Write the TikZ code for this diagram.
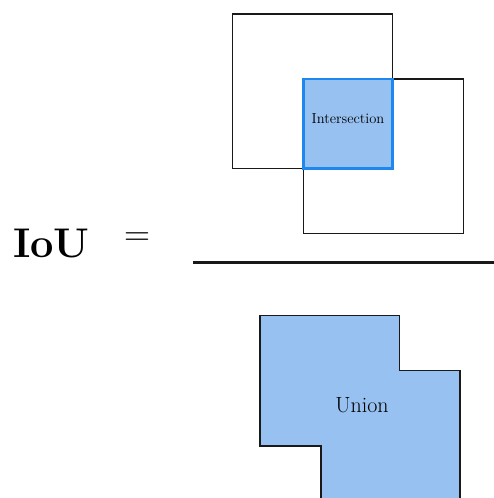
\documentclass[tikz,border=0pt]{standalone}
\definecolor{unionfill}{RGB}{151,193,240}
\definecolor{interblue}{RGB}{30,136,240}
\begin{document}
\begin{tikzpicture}[x=1pt,y=-1pt,
  boxline/.style={draw=black!90,line width=1.2pt},
  lbl/.style={inner sep=0pt,text=black}]
\clip (0,0) rectangle (494,498);
\useasboundingbox (0,0) rectangle (494,498);
% numerator
\draw[boxline] (232.7,14) rectangle (392.7,168.7);
\draw[boxline] (303.3,79) rectangle (463.3,233.3);
\draw[fill=unionfill,draw=interblue,line width=2.6pt] (303.3,79) rectangle (392.7,168.7);
\node[lbl,font=\fontsize{14.5}{14.5}\selectfont] (inter) at (348,118.5) {Intersection};
% fraction bar
\coordinate (barL) at (193,262.5);
\coordinate (barR) at (494,262.5);
\draw[line width=2.6pt,black!90] (barL) -- (barR);
% IoU =
\node[lbl,anchor=base west,font=\fontsize{41.5}{41.5}\selectfont\bfseries] (iou) at (13,257) {IoU};
\node[lbl,font=\fontsize{36}{36}\selectfont] (eq) at (137.5,239.5) {=};
% denominator
\draw[boxline,fill=unionfill] (260,315.5) -- (399.5,315.5) -- (399.5,370.3) -- (460,370.3) -- (460,520) -- (321,520) -- (321,446) -- (260,446) -- cycle;
\node[lbl,font=\fontsize{22}{22}\selectfont] (union) at (362,405) {Union};
\end{tikzpicture}
\end{document}
